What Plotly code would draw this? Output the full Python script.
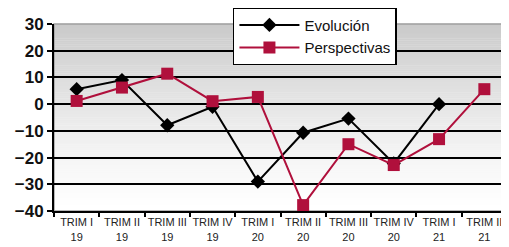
import plotly.graph_objects as go

categories = ["TRIM I<br>19", "TRIM II<br>19", "TRIM III<br>19", "TRIM IV<br>19",
              "TRIM I<br>20", "TRIM II<br>20", "TRIM III<br>20", "TRIM IV<br>20",
              "TRIM I<br>21", "TRIM II<br>21"]
evolucion = [5.6, 9, -7.9, -1, -29, -10.7, -5.4, -22.2, 0, None]
perspectivas = [1.2, 6.2, 11.4, 1.1, 2.7, -37.8, -15, -22.8, -13.1, 5.6]
y_ticks = [30, 20, 10, 0, -10, -20, -30, -40]

RED = "#b0103c"
fig = go.Figure()
fig.add_trace(go.Scatter(x=categories, y=evolucion, name="Evolución", mode="lines+markers",
                         line=dict(color="black", width=2),
                         marker=dict(symbol="diamond", size=11, color="black")))
fig.add_trace(go.Scatter(x=categories, y=perspectivas, name="Perspectivas", mode="lines+markers",
                         line=dict(color=RED, width=2),
                         marker=dict(symbol="square", size=12, color=RED)))

# gradient background
shapes = []
n = 90
for i in range(n):
    t = i / (n - 1)
    v = int(round(255 - (255 - 202) * (t ** 1.3)))
    shapes.append(dict(type="rect", xref="paper", yref="paper", x0=0, x1=1,
                       y0=i / n, y1=(i + 1) / n + 0.002, fillcolor=f"rgb({v},{v},{v})",
                       line=dict(width=0), layer="below"))
shapes.append(dict(type="rect", xref="paper", yref="paper", x0=0, x1=1, y0=0, y1=1,
                   line=dict(color="#a0a0a0", width=1.5), layer="below"))
fig.update_layout(shapes=shapes)

fig.update_layout(
    width=501, height=239,
    margin=dict(l=46, r=2, t=16, b=36, autoexpand=False),
    paper_bgcolor="white", plot_bgcolor="rgba(0,0,0,0)",
    showlegend=True,
    legend=dict(x=0.395, y=1.09, xanchor="left", yanchor="top",
                bgcolor="white", bordercolor="black", borderwidth=1.5,
                font=dict(family="Liberation Sans Narrow, Liberation Sans, sans-serif", size=15, color="#111"),
                itemwidth=60, tracegroupgap=0),
    xaxis=dict(type="category", tickson="boundaries", ticks="outside", ticklen=4,
               tickwidth=2, tickcolor="black", showline=True, linecolor="black", linewidth=2,
               showgrid=False, range=[-0.5, 9.5], tickangle=0, automargin=False,
               tickfont=dict(family="Liberation Sans Narrow, Liberation Sans, sans-serif", size=11, color="#222")),
    yaxis=dict(range=[-40, 30], tickvals=y_ticks, ticks="outside", ticklen=5, tickwidth=2,
               tickcolor="black", showline=True, linecolor="black", linewidth=2,
               showgrid=True, gridcolor="black", gridwidth=1.5, zeroline=False, automargin=False,
               tickfont=dict(family="Liberation Sans, Arial, sans-serif", size=17, color="#111",
                             weight="bold")),
)
fig.write_html("out.html")
